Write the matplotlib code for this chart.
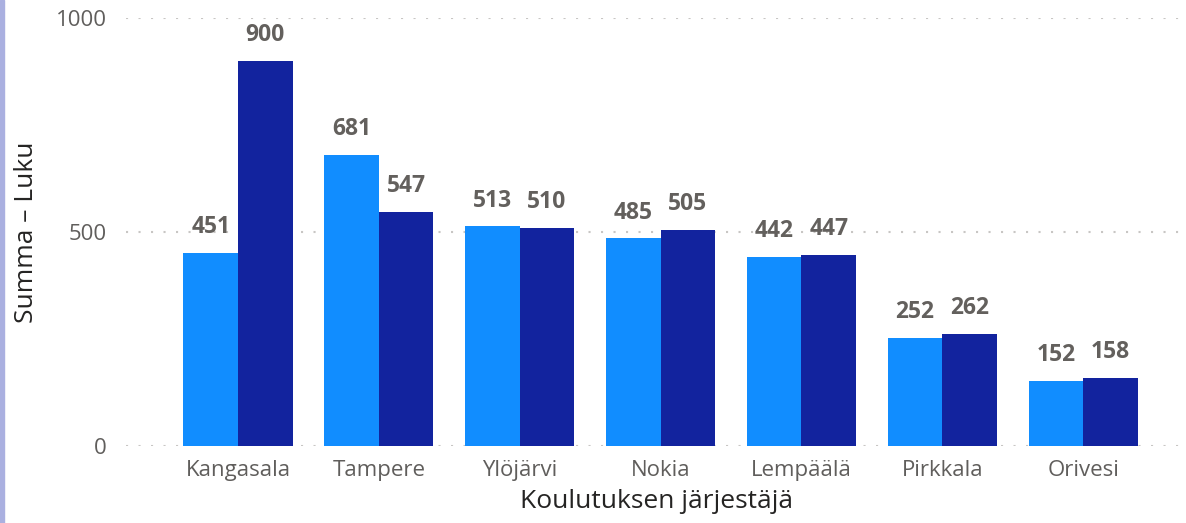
import matplotlib
matplotlib.use('Agg')
import matplotlib.pyplot as plt
import numpy as np

# data
categories = ['Kangasala', 'Tampere', 'Ylöjärvi', 'Nokia', 'Lempäälä', 'Pirkkala', 'Orivesi']
series_a = [451, 681, 513, 485, 442, 252, 152]
series_b = [900, 547, 510, 505, 447, 262, 158]
y_ticks = [0, 500, 1000]

plt.rcParams['font.family'] = ['Open Sans', 'DejaVu Sans']

fig = plt.figure(figsize=(11.86, 5.23), dpi=100)
ax = fig.add_axes([126 / 1186, 77 / 523, 1060 / 1186, 428 / 523])

x = np.arange(len(categories))
width = 0.387

bars_a = ax.bar(x - width / 2, series_a, width, color='#118DFF', zorder=3)
bars_b = ax.bar(x + width / 2, series_b, width, color='#12239E', zorder=3)

for bars in (bars_a, bars_b):
    for b in bars:
        ax.annotate(str(int(b.get_height())),
                    (b.get_x() + b.get_width() / 2, b.get_height()),
                    xytext=(0, 10), textcoords='offset points',
                    ha='center', va='bottom', fontsize=16.5, fontweight='bold',
                    color='#63605d', annotation_clip=False)

ax.set_xlim(-0.795, len(categories) - 0.27)
ax.set_ylim(0, 1000)
ax.set_yticks(y_ticks)
ax.set_xticks(x)
ax.set_xticklabels(categories)
ax.tick_params(axis='both', length=0, labelsize=16, labelcolor='#605E5C')
ax.tick_params(axis='y', pad=14)
ax.tick_params(axis='x', pad=10)
ax.grid(axis='y', linestyle=(0, (1, 5)), color='#c8c6c4', linewidth=1.5, zorder=0)
for s in ax.spines.values():
    s.set_visible(False)

ax.set_xlabel('Koulutuksen järjestäjä', fontsize=19, color='#252423', labelpad=6)
ax.set_ylabel('Summa – Luku', fontsize=19, color='#252423', labelpad=12)

# thin coloured strip on the left edge
fig.patches.append(plt.Rectangle((0, 0), 4 / 1186, 1, transform=fig.transFigure,
                                 color='#aab0e0', zorder=0))

plt.savefig('out.png', dpi=100)
